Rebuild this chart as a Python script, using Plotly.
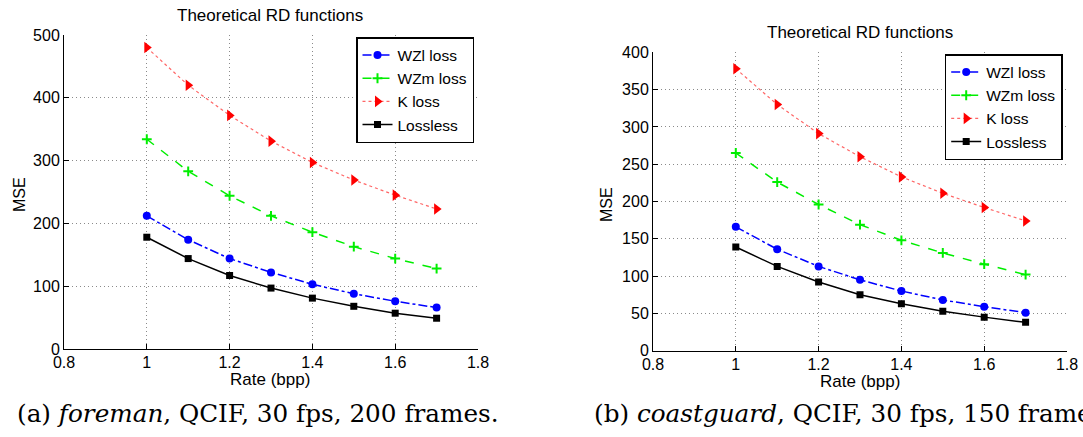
import plotly.graph_objects as go

rate = [1.0, 1.1, 1.2, 1.3, 1.4, 1.5, 1.6, 1.7]

# (a) foreman
a_wzl = [212, 174, 144, 122, 103, 88, 76, 66]
a_wzm = [334, 283, 244, 212, 186, 163, 144, 128]
a_k = [480, 420, 372, 331, 297, 269, 245, 223]
a_lossless = [178, 144, 117, 97, 81, 68, 57, 49]

# (b) coastguard
b_wzl = [166, 136, 113, 95, 80, 68, 59, 51]
b_wzm = [265, 226, 196, 169, 148, 131, 116, 102]
b_k = [378, 330, 291, 260, 233, 211, 192, 174]
b_lossless = [139, 113, 92, 75, 63, 53, 45, 38]

names = ["WZl loss", "WZm loss", "K loss", "Lossless"]
x_ticks = [0.8, 1.0, 1.2, 1.4, 1.6, 1.8]
x_ticklabels = ["0.8", "1", "1.2", "1.4", "1.6", "1.8"]

W, H = 1083, 437

styles = [
    dict(line=dict(color="#0000ff", width=1.5, dash="dashdot"),
         marker=dict(symbol="circle", size=8, color="#0000ff")),
    dict(line=dict(color="#00ee00", width=1.5, dash="dash"),
         marker=dict(symbol="cross-thin", size=7, line=dict(color="#00ee00", width=2))),
    dict(line=dict(color="#ff6666", width=1.2, dash="dot"),
         marker=dict(symbol="triangle-right", size=10, color="#ff0000")),
    dict(line=dict(color="#000000", width=1.5, dash="solid"),
         marker=dict(symbol="square", size=7, color="#000000")),
]

fig = go.Figure()

for series, xa, ya, leg in [
    ([a_wzl, a_wzm, a_k, a_lossless], "x", "y", "legend"),
    ([b_wzl, b_wzm, b_k, b_lossless], "x2", "y2", "legend2"),
]:
    for name, vals, st in zip(names, series, styles):
        fig.add_trace(go.Scatter(
            x=rate, y=vals, name=name, mode="lines+markers",
            xaxis=xa, yaxis=ya, legend=leg, **st))


def px_x(p):
    return p / W


def px_y(p):
    return (H - p) / H


sans = "Liberation Sans, Arial, sans-serif"
serif = "DejaVu Serif, serif"

axis_common = dict(
    showline=True, linecolor="black", linewidth=1,
    ticks="inside", ticklen=5, tickcolor="black",
    showgrid=True, gridcolor="#8a8a8a", griddash="1px,3px", gridwidth=1,
    zeroline=False, mirror=False, automargin=False,
    tickfont=dict(family=sans, size=16, color="black"),
)
xaxis_extra = dict(ticklabelstandoff=-1)

legend_common = dict(
    xanchor="right", yanchor="top",
    bgcolor="white", bordercolor="black", borderwidth=1.5,
    font=dict(family=sans, size=15.5, color="black"),
    itemwidth=30, tracegroupgap=0,
)

fig.update_layout(
    width=W, height=H,
    margin=dict(l=0, r=0, t=0, b=0),
    paper_bgcolor="white", plot_bgcolor="white",
    xaxis=dict(domain=[px_x(64), px_x(478)], range=[0.8, 1.8],
               tickvals=x_ticks, ticktext=x_ticklabels, anchor="y",
               **axis_common, **xaxis_extra),
    yaxis=dict(domain=[px_y(349), px_y(35)], range=[0, 500], dtick=100,
               anchor="x", **axis_common),
    xaxis2=dict(domain=[px_x(653), px_x(1067)], range=[0.8, 1.8],
                tickvals=x_ticks, ticktext=x_ticklabels, anchor="y2",
                **axis_common, **xaxis_extra),
    yaxis2=dict(domain=[px_y(350.7), px_y(52.3)], range=[0, 400], dtick=50,
                anchor="x2", **axis_common),
    legend=dict(x=px_x(474), y=px_y(37), **legend_common),
    legend2=dict(x=px_x(1062.7), y=px_y(54), **legend_common),
    showlegend=True,
)

ann = [
    dict(text="Theoretical RD functions", x=px_x(270), y=px_y(16)),
    dict(text="Theoretical RD functions", x=px_x(860), y=px_y(33)),
    dict(text="Rate (bpp)", x=px_x(270), y=px_y(379)),
    dict(text="Rate (bpp)", x=px_x(860), y=px_y(381)),
]
for a in ann:
    fig.add_annotation(text=a["text"], x=a["x"], y=a["y"], xref="paper", yref="paper",
                       showarrow=False, xanchor="center", yanchor="middle",
                       font=dict(family=sans, size=17, color="black"))

for xx, yy in [(19, 195), (606, 205)]:
    fig.add_annotation(text="MSE", x=px_x(xx), y=px_y(yy), xref="paper", yref="paper",
                       showarrow=False, textangle=-90, xanchor="center", yanchor="middle",
                       font=dict(family=sans, size=16, color="black"))

fig.add_annotation(text="(a) <i>foreman</i>, QCIF, 30 fps, 200 frames.",
                   x=px_x(15), y=px_y(413), xref="paper", yref="paper",
                   showarrow=False, xanchor="left", yanchor="middle",
                   font=dict(family=serif, size=24.7, color="black"))
fig.add_annotation(text="(b) <i>coastguard</i>, QCIF, 30 fps, 150 frames.",
                   x=px_x(592), y=px_y(413), xref="paper", yref="paper",
                   showarrow=False, xanchor="left", yanchor="middle",
                   font=dict(family=serif, size=24.7, color="black"))

fig.write_html(
    "out.html",
    config={"displayModeBar": False},
    post_script="document.body.style.margin='0';document.body.style.overflow='hidden';",
)
